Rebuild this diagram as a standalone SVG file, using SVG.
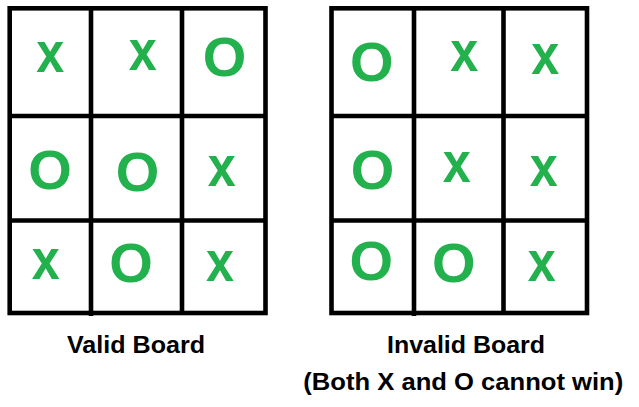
<svg xmlns="http://www.w3.org/2000/svg" width="639" height="407" viewBox="0 0 639 407">
<style>
.grid{fill:none;stroke:#000;stroke-width:4.6}
.m{font-family:"Liberation Sans",Arial,sans-serif;font-weight:bold;fill:#22B14C;text-anchor:middle}
.x{font-size:58px}
.o{font-size:56px}
.lbl{font-family:"Liberation Sans",Arial,sans-serif;font-weight:bold;font-size:24px;fill:#000;text-anchor:middle}
</style>
<rect width="639" height="407" fill="#fff"/>
<g id="board-valid">
  <g id="valid-grid" class="grid">
    <rect x="9.7" y="8.3" width="255.8" height="304.7"/>
    <line x1="91" y1="8.3" x2="91" y2="316"/>
    <line x1="182" y1="8.3" x2="182" y2="313"/>
    <line x1="9.7" y1="116" x2="265.5" y2="116"/>
    <line x1="9.7" y1="220.5" x2="265.5" y2="220.5"/>
  </g>
  <g id="v-r1c1"><text class="m x" x="50.3" y="71.7" textLength="28" lengthAdjust="spacingAndGlyphs">x</text></g>
  <g id="v-r1c2"><text class="m x" x="142.7" y="70" textLength="28" lengthAdjust="spacingAndGlyphs">x</text></g>
  <g id="v-r1c3"><text class="m o" x="224.5" y="76.3">O</text></g>
  <g id="v-r2c1"><text class="m o" x="50" y="189">O</text></g>
  <g id="v-r2c2"><text class="m o" x="137.5" y="191.3">O</text></g>
  <g id="v-r2c3"><text class="m x" x="221.7" y="185.7" textLength="28" lengthAdjust="spacingAndGlyphs">x</text></g>
  <g id="v-r3c1"><text class="m x" x="45.8" y="279.3" textLength="28" lengthAdjust="spacingAndGlyphs">x</text></g>
  <g id="v-r3c2"><text class="m o" x="131" y="282.3">O</text></g>
  <g id="v-r3c3"><text class="m x" x="220" y="281" textLength="28" lengthAdjust="spacingAndGlyphs">x</text></g>
  <text class="lbl" x="136" y="353" textLength="138" lengthAdjust="spacingAndGlyphs">Valid Board</text>
</g>
<g id="board-invalid">
  <g id="invalid-grid" class="grid">
    <rect x="331.5" y="8.3" width="255.5" height="304.7"/>
    <line x1="414" y1="8.3" x2="414" y2="316"/>
    <line x1="503.5" y1="8.3" x2="503.5" y2="313"/>
    <line x1="331.5" y1="116" x2="587" y2="116"/>
    <line x1="331.5" y1="220.5" x2="587" y2="220.5"/>
  </g>
  <g id="i-r1c1"><text class="m o" x="371.7" y="81.3">O</text></g>
  <g id="i-r1c2"><text class="m x" x="464.3" y="70.7" textLength="28" lengthAdjust="spacingAndGlyphs">x</text></g>
  <g id="i-r1c3"><text class="m x" x="545.3" y="74" textLength="28" lengthAdjust="spacingAndGlyphs">x</text></g>
  <g id="i-r2c1"><text class="m o" x="372.5" y="189">O</text></g>
  <g id="i-r2c2"><text class="m x" x="456.7" y="182.3" textLength="28" lengthAdjust="spacingAndGlyphs">x</text></g>
  <g id="i-r2c3"><text class="m x" x="543.7" y="186" textLength="28" lengthAdjust="spacingAndGlyphs">x</text></g>
  <g id="i-r3c1"><text class="m o" x="371.2" y="280">O</text></g>
  <g id="i-r3c2"><text class="m o" x="453.7" y="282.3">O</text></g>
  <g id="i-r3c3"><text class="m x" x="541.7" y="281" textLength="28" lengthAdjust="spacingAndGlyphs">x</text></g>
  <text class="lbl" x="466" y="353" textLength="158" lengthAdjust="spacingAndGlyphs">Invalid Board</text>
  <text class="lbl" x="463.3" y="390" textLength="320" lengthAdjust="spacingAndGlyphs">(Both X and O cannot win)</text>
</g>
</svg>
